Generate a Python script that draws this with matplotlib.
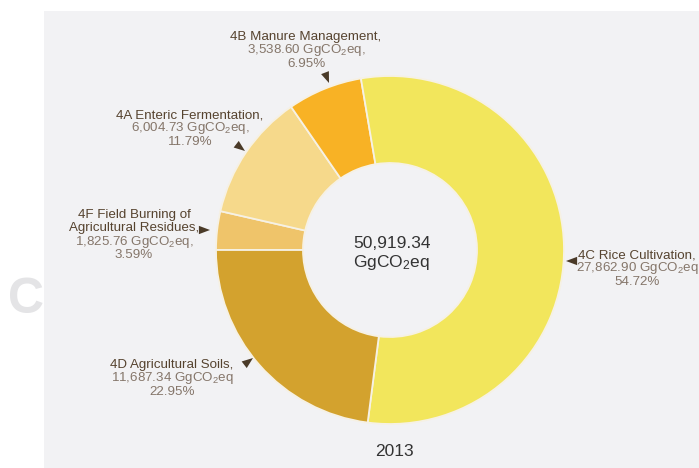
import matplotlib.pyplot as plt
from matplotlib.patches import Rectangle

plt.rcParams['font.family'] = ['Liberation Sans', 'DejaVu Sans']
plt.rcParams['mathtext.fontset'] = 'custom'
plt.rcParams['mathtext.rm'] = 'Liberation Sans'
plt.rcParams['mathtext.it'] = 'Liberation Sans'

# agricultural emissions 2013, GgCO2eq (clockwise from 9 o'clock)
codes = ["4F", "4A", "4B", "4C", "4D"]
names = [["4F Field Burning of", "Agricultural Residues,"],
         ["4A Enteric Fermentation,"],
         ["4B Manure Management,"],
         ["4C Rice Cultivation,"],
         ["4D Agricultural Soils,"]]
emissions = [1825.76, 6004.73, 3538.60, 27862.90, 11687.34]
unit_comma = [True, True, True, False, False]
total_label = 50919.34
year = "2013"

colors = ["#efc46a", "#f6d98b", "#f8b225", "#f2e65c", "#d3a22e"]

W, H = 699, 468
fig = plt.figure(figsize=(W / 100, H / 100), dpi=100)
ax = fig.add_axes([0, 0, 1, 1])


def py(y):
    return H - y


# faint watermark and the grey panel
ax.text(8, py(300), "Cr", fontsize=36, fontweight='bold', color='#e4e4e6',
        va='center', ha='left', zorder=0)
ax.add_patch(Rectangle((44, 0), W - 44, py(11), facecolor='#f2f2f4', edgecolor='none', zorder=1))

cx, cy, r = 390, 250, 174
wedges, _ = ax.pie(emissions, colors=colors, startangle=180, counterclock=False,
                   radius=r, center=(cx, py(cy)),
                   wedgeprops=dict(width=r * 0.5, edgecolor='#f6f1e4', linewidth=1.3))
for w in wedges:
    w.set_zorder(2)

dark = '#56432f'
light = '#85766a'
total = sum(emissions)

# label anchor: centre x, first-line y, arrow tail, arrow tip
label_pos = {
    "4F": (134, 215, (196, 230), (210, 230)),
    "4A": (190, 115, (232, 141), (245, 151)),
    "4B": (306, 37, (324, 70), (329, 83)),
    "4C": (637, 255, (580, 261), (566, 261)),
    "4D": (172, 365, (240, 368), (253, 358)),
}
step = 13.5

for code, name, val, comma in zip(codes, names, emissions, unit_comma):
    x, y, tail, tip = label_pos[code]
    lines = [(t, dark) for t in name]
    lines.append((f"{val:,.2f} GgCO$_{{2}}$eq" + ("," if comma else ""), light))
    lines.append((f"{val / total * 100:.2f}%", light))
    for i, (t, c) in enumerate(lines):
        ax.text(x, py(y + i * step), t, fontsize=9.6, color=c, ha='center', va='center', zorder=3)
    ax.annotate("", xy=(tip[0], py(tip[1])), xytext=(tail[0], py(tail[1])),
                arrowprops=dict(arrowstyle='-|>,head_length=0.8,head_width=0.3',
                                color='#4a3a28', lw=0, shrinkA=0, shrinkB=0), zorder=3)

ax.text(cx + 2, py(243), f"{total_label:,.2f}", fontsize=12.5, color='#333333',
        ha='center', va='center', zorder=3)
ax.text(cx + 1, py(262), "GgCO$_{2}$eq", fontsize=12.5, color='#333333',
        ha='center', va='center', zorder=3)
ax.text(cx + 4, py(452), year, fontsize=12.5, color='#333333', ha='center', va='center', zorder=3)

ax.set_xlim(0, W)
ax.set_ylim(0, H)
ax.axis('off')
fig.savefig("out.png", dpi=100, facecolor='white')
